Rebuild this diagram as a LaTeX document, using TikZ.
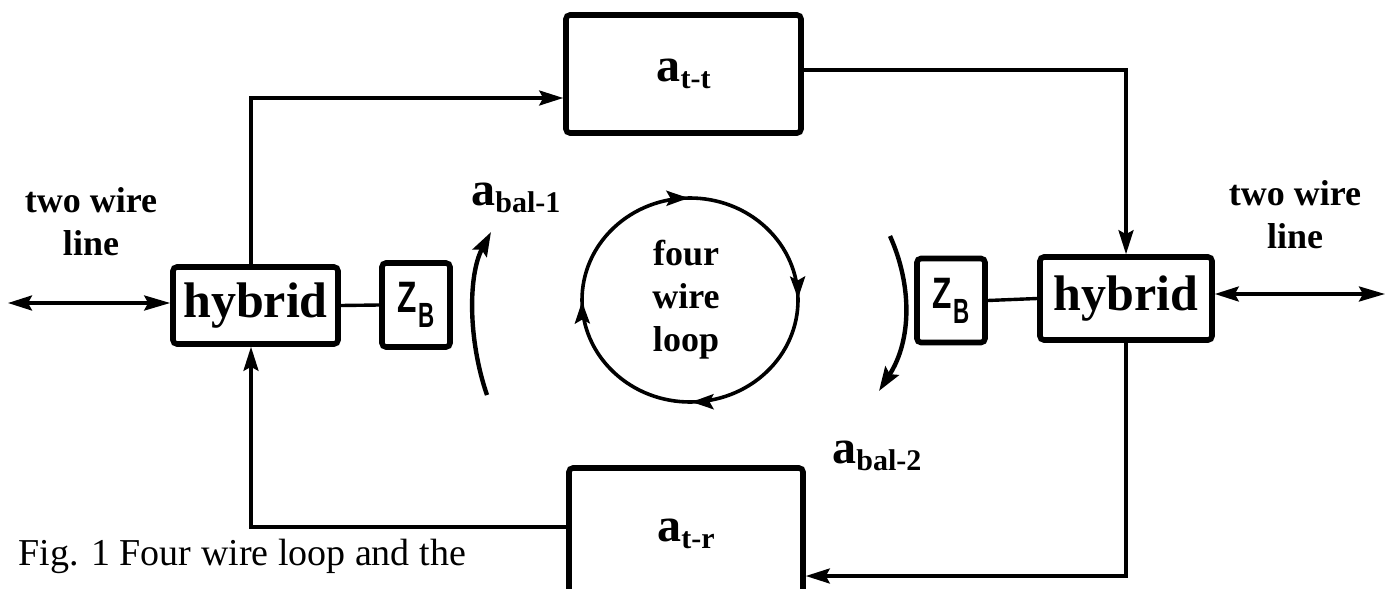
\documentclass[tikz,border=0pt]{standalone}
\usepackage{fontspec}
\setmainfont{Liberation Serif}
\setsansfont{Liberation Sans}
\usetikzlibrary{arrows.meta,decorations.markings}
\newcommand\attn[1]{{\fontsize{24}{24}\selectfont a}{\fontsize{15}{15}\selectfont\raisebox{-3.5pt}{#1}}}
\newcommand\zbtext{\sffamily\bfseries\scalebox{0.72}[1]{\fontsize{22}{22}\selectfont Z}\kern1pt\raisebox{-7.5pt}{\scalebox{0.64}[1]{\fontsize{17.5}{17.5}\selectfont B}}}
\begin{document}
\begin{tikzpicture}[x=0.5pt,y=-0.5pt,
  box/.style={draw,line width=2.8pt,rounded corners=2pt,inner sep=0pt,font=\bfseries},
  conn/.style={line width=1.7pt},
  tip/.style={-{Stealth[length=12pt,width=7.5pt,inset=2pt]}},
  dtip/.style={{Stealth[length=12pt,width=7.5pt,inset=2pt]}-{Stealth[length=13pt,width=7.5pt,inset=2pt]}},
  lbl/.style={font=\bfseries\fontsize{18}{21.5}\selectfont,align=center,inner sep=0pt},
  balarrow/.style={line width=2.2pt,-{Stealth[length=12pt,width=8pt,inset=2pt]}},
]
\useasboundingbox (0,0) rectangle (1387,589);
\clip (0,0) rectangle (1387,589);

% boxes
\node[box,minimum width=117.5pt,minimum height=59pt] (tt) at (683.5,74) {\attn{t-t}};
\node[box,minimum width=117pt,minimum height=66pt] (tr) at (686,534) {\attn{t-r}};
\node[box,font=\bfseries\fontsize{25}{25}\selectfont,minimum width=82.5pt,minimum height=38.5pt] (hybL) at (255.5,305.5) {hybrid};
\node[box,font=\bfseries\fontsize{25}{25}\selectfont,minimum width=86pt,minimum height=41.5pt] (hybR) at (1126,298.5) {hybrid};
\node[box,minimum width=34pt,minimum height=42pt] (zbL) at (416,305) {\zbtext};
\node[box,minimum width=34pt,minimum height=42pt] (zbR) at (951,300.5) {\zbtext};

% loop connectors
\draw[conn,tip] (hybL.north -| 251,0) |- (tt.west |- 0,98);
\draw[conn,tip] (tt.east |- 0,70) -| (hybR.north);
\draw[conn,tip] (hybR.south) |- (tr.east |- 0,576);
\draw[conn,tip] (tr.west |- 0,527) -| (hybL.south -| 251,0);

% hybrid to balance
\draw[conn] (hybL.east) -- (zbL.west);
\draw[conn] (zbR.east) -- (hybR.west);

% two wire lines
\coordinate (lend) at (8,303);
\coordinate (rend) at (1385,294);
\draw[conn,dtip] (lend) -- (lend -| hybL.west);
\draw[conn,dtip] (rend -| hybR.east) -- (rend);

% four wire loop
\coordinate (cc) at (690,300);
\draw[line width=1.8pt,postaction={decorate},decoration={markings,
  mark=at position 0.125 with {\arrow{Stealth[length=11pt,width=7.5pt,inset=2pt]}},
  mark=at position 0.375 with {\arrow{Stealth[length=11pt,width=7.5pt,inset=2pt]}},
  mark=at position 0.625 with {\arrow{Stealth[length=11pt,width=7.5pt,inset=2pt]}},
  mark=at position 0.875 with {\arrow{Stealth[length=11pt,width=7.5pt,inset=2pt]}}}]
  (cc) ++(45:108 and 102) arc[start angle=45,end angle=405,x radius=108,y radius=102];
\node[lbl] (loop) at (686,300) {four\\wire\\loop};

% balance arrows
\coordinate (b1s) at (487,395);
\coordinate (b1e) at (491,232);
\coordinate (b2s) at (890,236);
\coordinate (b2e) at (879,391);
\draw[balarrow] (b1s) .. controls (468,340) and (468,275) .. (b1e);
\draw[balarrow] (b2s) .. controls (912,285) and (912,340) .. (b2e);

% labels
\node[lbl] (twoL) at (91,222) {two wire\\line};
\node[lbl] (twoR) at (1295,215) {two wire\\line};
\node[anchor=base west,font=\bfseries,inner sep=0pt] (bal1) at (471,205) {\attn{bal-1}};
\node[anchor=base west,font=\bfseries,inner sep=0pt] (bal2) at (832,463) {\attn{bal-2}};
\node[anchor=base west,inner sep=0pt,font=\fontsize{19}{19}\selectfont] (cap) at (18,565) {Fig. 1 Four wire loop and the};
\end{tikzpicture}
\end{document}
